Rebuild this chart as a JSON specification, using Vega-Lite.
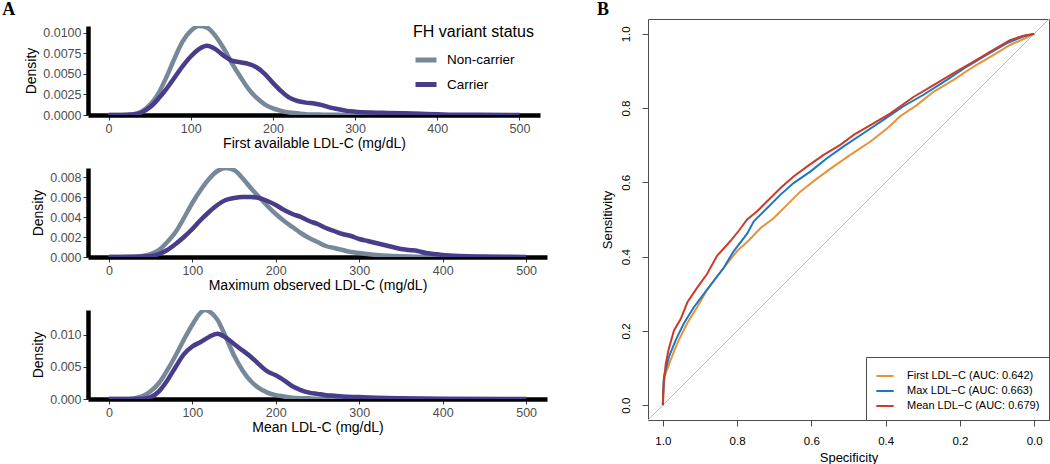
{
  "$schema": "https://vega.github.io/schema/vega-lite/v6.json",
  "background": "white",
  "padding": {"left": 2, "top": 0, "right": 0, "bottom": 0},
  "config": {
    "font": "Liberation Sans",
    "view": {"stroke": null},
    "axis": {
      "grid": false,
      "domainColor": "black",
      "domainWidth": 4.5,
      "tickColor": "#333333",
      "tickSize": 5,
      "tickWidth": 1,
      "labelColor": "#4D4D4D",
      "labelFontSize": 12.5,
      "labelPadding": 2,
      "titleFontSize": 14,
      "titleFontWeight": "normal",
      "titleColor": "black",
      "titlePadding": 2
    }
  },
  "datasets": {
    "dens": [
      {"p":"first","s":"Non-carrier","x":0,"d":0},{"p":"first","s":"Non-carrier","x":10,"d":0},{"p":"first","s":"Non-carrier","x":20,"d":0.00003},{"p":"first","s":"Non-carrier","x":30,"d":0.0001},{"p":"first","s":"Non-carrier","x":40,"d":0.0004},{"p":"first","s":"Non-carrier","x":50,"d":0.0012},{"p":"first","s":"Non-carrier","x":60,"d":0.0025},{"p":"first","s":"Non-carrier","x":70,"d":0.0045},{"p":"first","s":"Non-carrier","x":80,"d":0.0068},{"p":"first","s":"Non-carrier","x":90,"d":0.0089},{"p":"first","s":"Non-carrier","x":100,"d":0.0102},{"p":"first","s":"Non-carrier","x":110,"d":0.0108},{"p":"first","s":"Non-carrier","x":120,"d":0.0106},{"p":"first","s":"Non-carrier","x":130,"d":0.0096},{"p":"first","s":"Non-carrier","x":140,"d":0.0081},{"p":"first","s":"Non-carrier","x":150,"d":0.0063},{"p":"first","s":"Non-carrier","x":160,"d":0.0047},{"p":"first","s":"Non-carrier","x":170,"d":0.0032},{"p":"first","s":"Non-carrier","x":180,"d":0.0021},{"p":"first","s":"Non-carrier","x":190,"d":0.0013},{"p":"first","s":"Non-carrier","x":200,"d":0.0008},{"p":"first","s":"Non-carrier","x":210,"d":0.0005},{"p":"first","s":"Non-carrier","x":220,"d":0.0003},{"p":"first","s":"Non-carrier","x":230,"d":0.0002},{"p":"first","s":"Non-carrier","x":240,"d":0.0001},{"p":"first","s":"Non-carrier","x":260,"d":0.00004},{"p":"first","s":"Non-carrier","x":280,"d":0.00002},{"p":"first","s":"Non-carrier","x":300,"d":0},{"p":"first","s":"Non-carrier","x":400,"d":0},
      {"p":"first","s":"Carrier","x":0,"d":0},{"p":"first","s":"Carrier","x":20,"d":0},{"p":"first","s":"Carrier","x":30,"d":0.00005},{"p":"first","s":"Carrier","x":40,"d":0.0003},{"p":"first","s":"Carrier","x":50,"d":0.0009},{"p":"first","s":"Carrier","x":60,"d":0.0019},{"p":"first","s":"Carrier","x":70,"d":0.0031},{"p":"first","s":"Carrier","x":80,"d":0.0045},{"p":"first","s":"Carrier","x":90,"d":0.0059},{"p":"first","s":"Carrier","x":100,"d":0.0071},{"p":"first","s":"Carrier","x":110,"d":0.008},{"p":"first","s":"Carrier","x":120,"d":0.0084},{"p":"first","s":"Carrier","x":130,"d":0.008},{"p":"first","s":"Carrier","x":140,"d":0.0072},{"p":"first","s":"Carrier","x":150,"d":0.0066},{"p":"first","s":"Carrier","x":160,"d":0.0064},{"p":"first","s":"Carrier","x":170,"d":0.0062},{"p":"first","s":"Carrier","x":180,"d":0.0058},{"p":"first","s":"Carrier","x":190,"d":0.005},{"p":"first","s":"Carrier","x":200,"d":0.0039},{"p":"first","s":"Carrier","x":210,"d":0.0029},{"p":"first","s":"Carrier","x":220,"d":0.0021},{"p":"first","s":"Carrier","x":230,"d":0.0017},{"p":"first","s":"Carrier","x":240,"d":0.0015},{"p":"first","s":"Carrier","x":250,"d":0.0014},{"p":"first","s":"Carrier","x":260,"d":0.0012},{"p":"first","s":"Carrier","x":270,"d":0.0009},{"p":"first","s":"Carrier","x":280,"d":0.0007},{"p":"first","s":"Carrier","x":290,"d":0.0005},{"p":"first","s":"Carrier","x":300,"d":0.0004},{"p":"first","s":"Carrier","x":320,"d":0.0003},{"p":"first","s":"Carrier","x":340,"d":0.00025},{"p":"first","s":"Carrier","x":360,"d":0.0002},{"p":"first","s":"Carrier","x":380,"d":0.00015},{"p":"first","s":"Carrier","x":400,"d":0.0001},{"p":"first","s":"Carrier","x":420,"d":0.00004},{"p":"first","s":"Carrier","x":450,"d":0.00002},{"p":"first","s":"Carrier","x":500,"d":0},
      {"p":"max","s":"Non-carrier","x":0,"d":0},{"p":"max","s":"Non-carrier","x":30,"d":0.00002},{"p":"max","s":"Non-carrier","x":40,"d":0.0001},{"p":"max","s":"Non-carrier","x":50,"d":0.0003},{"p":"max","s":"Non-carrier","x":60,"d":0.0007},{"p":"max","s":"Non-carrier","x":70,"d":0.0015},{"p":"max","s":"Non-carrier","x":80,"d":0.0025},{"p":"max","s":"Non-carrier","x":90,"d":0.0039},{"p":"max","s":"Non-carrier","x":100,"d":0.0054},{"p":"max","s":"Non-carrier","x":110,"d":0.0067},{"p":"max","s":"Non-carrier","x":120,"d":0.0078},{"p":"max","s":"Non-carrier","x":130,"d":0.0086},{"p":"max","s":"Non-carrier","x":140,"d":0.0089},{"p":"max","s":"Non-carrier","x":150,"d":0.0087},{"p":"max","s":"Non-carrier","x":160,"d":0.0079},{"p":"max","s":"Non-carrier","x":170,"d":0.0069},{"p":"max","s":"Non-carrier","x":180,"d":0.006},{"p":"max","s":"Non-carrier","x":190,"d":0.0051},{"p":"max","s":"Non-carrier","x":200,"d":0.0043},{"p":"max","s":"Non-carrier","x":210,"d":0.0036},{"p":"max","s":"Non-carrier","x":220,"d":0.003},{"p":"max","s":"Non-carrier","x":230,"d":0.0024},{"p":"max","s":"Non-carrier","x":240,"d":0.0019},{"p":"max","s":"Non-carrier","x":250,"d":0.0015},{"p":"max","s":"Non-carrier","x":260,"d":0.0011},{"p":"max","s":"Non-carrier","x":270,"d":0.0009},{"p":"max","s":"Non-carrier","x":280,"d":0.0007},{"p":"max","s":"Non-carrier","x":290,"d":0.0005},{"p":"max","s":"Non-carrier","x":300,"d":0.0004},{"p":"max","s":"Non-carrier","x":320,"d":0.0002},{"p":"max","s":"Non-carrier","x":340,"d":0.0001},{"p":"max","s":"Non-carrier","x":360,"d":0.00005},{"p":"max","s":"Non-carrier","x":400,"d":0.00001},{"p":"max","s":"Non-carrier","x":450,"d":0},
      {"p":"max","s":"Carrier","x":0,"d":0},{"p":"max","s":"Carrier","x":40,"d":0.00005},{"p":"max","s":"Carrier","x":50,"d":0.0001},{"p":"max","s":"Carrier","x":60,"d":0.0003},{"p":"max","s":"Carrier","x":70,"d":0.0007},{"p":"max","s":"Carrier","x":80,"d":0.0013},{"p":"max","s":"Carrier","x":90,"d":0.002},{"p":"max","s":"Carrier","x":100,"d":0.0028},{"p":"max","s":"Carrier","x":110,"d":0.0037},{"p":"max","s":"Carrier","x":120,"d":0.0045},{"p":"max","s":"Carrier","x":130,"d":0.0052},{"p":"max","s":"Carrier","x":140,"d":0.0057},{"p":"max","s":"Carrier","x":150,"d":0.0059},{"p":"max","s":"Carrier","x":160,"d":0.006},{"p":"max","s":"Carrier","x":170,"d":0.006},{"p":"max","s":"Carrier","x":180,"d":0.0059},{"p":"max","s":"Carrier","x":190,"d":0.0056},{"p":"max","s":"Carrier","x":200,"d":0.0052},{"p":"max","s":"Carrier","x":210,"d":0.0047},{"p":"max","s":"Carrier","x":220,"d":0.0043},{"p":"max","s":"Carrier","x":230,"d":0.004},{"p":"max","s":"Carrier","x":240,"d":0.0036},{"p":"max","s":"Carrier","x":250,"d":0.0033},{"p":"max","s":"Carrier","x":260,"d":0.0029},{"p":"max","s":"Carrier","x":270,"d":0.0026},{"p":"max","s":"Carrier","x":280,"d":0.0023},{"p":"max","s":"Carrier","x":290,"d":0.0021},{"p":"max","s":"Carrier","x":300,"d":0.0018},{"p":"max","s":"Carrier","x":310,"d":0.0016},{"p":"max","s":"Carrier","x":320,"d":0.0014},{"p":"max","s":"Carrier","x":330,"d":0.0012},{"p":"max","s":"Carrier","x":340,"d":0.001},{"p":"max","s":"Carrier","x":350,"d":0.0008},{"p":"max","s":"Carrier","x":360,"d":0.0007},{"p":"max","s":"Carrier","x":370,"d":0.0006},{"p":"max","s":"Carrier","x":380,"d":0.0004},{"p":"max","s":"Carrier","x":390,"d":0.0003},{"p":"max","s":"Carrier","x":400,"d":0.0002},{"p":"max","s":"Carrier","x":420,"d":0.0001},{"p":"max","s":"Carrier","x":450,"d":0.00005},{"p":"max","s":"Carrier","x":480,"d":0.00002},{"p":"max","s":"Carrier","x":500,"d":0},
      {"p":"mean","s":"Non-carrier","x":0,"d":0},{"p":"mean","s":"Non-carrier","x":20,"d":0},{"p":"mean","s":"Non-carrier","x":30,"d":0.0001},{"p":"mean","s":"Non-carrier","x":40,"d":0.0004},{"p":"mean","s":"Non-carrier","x":50,"d":0.0012},{"p":"mean","s":"Non-carrier","x":60,"d":0.0025},{"p":"mean","s":"Non-carrier","x":70,"d":0.0045},{"p":"mean","s":"Non-carrier","x":80,"d":0.0068},{"p":"mean","s":"Non-carrier","x":90,"d":0.0093},{"p":"mean","s":"Non-carrier","x":100,"d":0.0116},{"p":"mean","s":"Non-carrier","x":110,"d":0.0135},{"p":"mean","s":"Non-carrier","x":115,"d":0.0139},{"p":"mean","s":"Non-carrier","x":120,"d":0.0137},{"p":"mean","s":"Non-carrier","x":130,"d":0.0124},{"p":"mean","s":"Non-carrier","x":140,"d":0.0097},{"p":"mean","s":"Non-carrier","x":150,"d":0.0068},{"p":"mean","s":"Non-carrier","x":160,"d":0.0045},{"p":"mean","s":"Non-carrier","x":170,"d":0.0028},{"p":"mean","s":"Non-carrier","x":180,"d":0.0017},{"p":"mean","s":"Non-carrier","x":190,"d":0.001},{"p":"mean","s":"Non-carrier","x":200,"d":0.0006},{"p":"mean","s":"Non-carrier","x":210,"d":0.0004},{"p":"mean","s":"Non-carrier","x":220,"d":0.0002},{"p":"mean","s":"Non-carrier","x":240,"d":0.0001},{"p":"mean","s":"Non-carrier","x":260,"d":0.00003},{"p":"mean","s":"Non-carrier","x":300,"d":0},{"p":"mean","s":"Non-carrier","x":350,"d":0},
      {"p":"mean","s":"Carrier","x":0,"d":0},{"p":"mean","s":"Carrier","x":40,"d":0.00005},{"p":"mean","s":"Carrier","x":50,"d":0.0003},{"p":"mean","s":"Carrier","x":60,"d":0.0012},{"p":"mean","s":"Carrier","x":70,"d":0.0029},{"p":"mean","s":"Carrier","x":80,"d":0.005},{"p":"mean","s":"Carrier","x":90,"d":0.007},{"p":"mean","s":"Carrier","x":100,"d":0.0082},{"p":"mean","s":"Carrier","x":110,"d":0.0089},{"p":"mean","s":"Carrier","x":120,"d":0.0097},{"p":"mean","s":"Carrier","x":130,"d":0.0102},{"p":"mean","s":"Carrier","x":140,"d":0.0096},{"p":"mean","s":"Carrier","x":150,"d":0.0086},{"p":"mean","s":"Carrier","x":160,"d":0.0076},{"p":"mean","s":"Carrier","x":170,"d":0.0066},{"p":"mean","s":"Carrier","x":180,"d":0.0054},{"p":"mean","s":"Carrier","x":190,"d":0.0043},{"p":"mean","s":"Carrier","x":200,"d":0.0037},{"p":"mean","s":"Carrier","x":210,"d":0.0029},{"p":"mean","s":"Carrier","x":220,"d":0.002},{"p":"mean","s":"Carrier","x":230,"d":0.0014},{"p":"mean","s":"Carrier","x":240,"d":0.001},{"p":"mean","s":"Carrier","x":250,"d":0.0008},{"p":"mean","s":"Carrier","x":260,"d":0.0006},{"p":"mean","s":"Carrier","x":270,"d":0.0005},{"p":"mean","s":"Carrier","x":280,"d":0.0004},{"p":"mean","s":"Carrier","x":300,"d":0.0003},{"p":"mean","s":"Carrier","x":320,"d":0.0002},{"p":"mean","s":"Carrier","x":350,"d":0.0001},{"p":"mean","s":"Carrier","x":400,"d":0.00003},{"p":"mean","s":"Carrier","x":500,"d":0}
    ],
    "roc": [
      {"c":"First LDL−C (AUC: 0.642)","sp":1,"se":0},{"c":"First LDL−C (AUC: 0.642)","sp":0.998,"se":0.04},{"c":"First LDL−C (AUC: 0.642)","sp":0.995,"se":0.078},{"c":"First LDL−C (AUC: 0.642)","sp":0.979,"se":0.122},{"c":"First LDL−C (AUC: 0.642)","sp":0.961,"se":0.167},{"c":"First LDL−C (AUC: 0.642)","sp":0.934,"se":0.221},{"c":"First LDL−C (AUC: 0.642)","sp":0.907,"se":0.265},{"c":"First LDL−C (AUC: 0.642)","sp":0.881,"se":0.31},{"c":"First LDL−C (AUC: 0.642)","sp":0.854,"se":0.346},{"c":"First LDL−C (AUC: 0.642)","sp":0.827,"se":0.381},{"c":"First LDL−C (AUC: 0.642)","sp":0.8,"se":0.415},{"c":"First LDL−C (AUC: 0.642)","sp":0.768,"se":0.444},{"c":"First LDL−C (AUC: 0.642)","sp":0.737,"se":0.477},{"c":"First LDL−C (AUC: 0.642)","sp":0.701,"se":0.504},{"c":"First LDL−C (AUC: 0.642)","sp":0.665,"se":0.54},{"c":"First LDL−C (AUC: 0.642)","sp":0.63,"se":0.575},{"c":"First LDL−C (AUC: 0.642)","sp":0.585,"se":0.61},{"c":"First LDL−C (AUC: 0.642)","sp":0.54,"se":0.643},{"c":"First LDL−C (AUC: 0.642)","sp":0.495,"se":0.674},{"c":"First LDL−C (AUC: 0.642)","sp":0.441,"se":0.71},{"c":"First LDL−C (AUC: 0.642)","sp":0.396,"se":0.745},{"c":"First LDL−C (AUC: 0.642)","sp":0.361,"se":0.778},{"c":"First LDL−C (AUC: 0.642)","sp":0.316,"se":0.808},{"c":"First LDL−C (AUC: 0.642)","sp":0.271,"se":0.844},{"c":"First LDL−C (AUC: 0.642)","sp":0.217,"se":0.876},{"c":"First LDL−C (AUC: 0.642)","sp":0.163,"se":0.912},{"c":"First LDL−C (AUC: 0.642)","sp":0.11,"se":0.943},{"c":"First LDL−C (AUC: 0.642)","sp":0.065,"se":0.97},{"c":"First LDL−C (AUC: 0.642)","sp":0.02,"se":0.99},{"c":"First LDL−C (AUC: 0.642)","sp":0,"se":1},
      {"c":"Max LDL−C (AUC: 0.663)","sp":1,"se":0},{"c":"Max LDL−C (AUC: 0.663)","sp":0.999,"se":0.04},{"c":"Max LDL−C (AUC: 0.663)","sp":0.997,"se":0.076},{"c":"Max LDL−C (AUC: 0.663)","sp":0.984,"se":0.129},{"c":"Max LDL−C (AUC: 0.663)","sp":0.966,"se":0.174},{"c":"Max LDL−C (AUC: 0.663)","sp":0.944,"se":0.219},{"c":"Max LDL−C (AUC: 0.663)","sp":0.917,"se":0.263},{"c":"Max LDL−C (AUC: 0.663)","sp":0.89,"se":0.299},{"c":"Max LDL−C (AUC: 0.663)","sp":0.863,"se":0.335},{"c":"Max LDL−C (AUC: 0.663)","sp":0.836,"se":0.37},{"c":"Max LDL−C (AUC: 0.663)","sp":0.809,"se":0.415},{"c":"Max LDL−C (AUC: 0.663)","sp":0.773,"se":0.462},{"c":"Max LDL−C (AUC: 0.663)","sp":0.755,"se":0.495},{"c":"Max LDL−C (AUC: 0.663)","sp":0.719,"se":0.531},{"c":"Max LDL−C (AUC: 0.663)","sp":0.683,"se":0.567},{"c":"Max LDL−C (AUC: 0.663)","sp":0.648,"se":0.598},{"c":"Max LDL−C (AUC: 0.663)","sp":0.603,"se":0.629},{"c":"Max LDL−C (AUC: 0.663)","sp":0.558,"se":0.665},{"c":"Max LDL−C (AUC: 0.663)","sp":0.513,"se":0.697},{"c":"Max LDL−C (AUC: 0.663)","sp":0.459,"se":0.733},{"c":"Max LDL−C (AUC: 0.663)","sp":0.405,"se":0.769},{"c":"Max LDL−C (AUC: 0.663)","sp":0.352,"se":0.805},{"c":"Max LDL−C (AUC: 0.663)","sp":0.298,"se":0.836},{"c":"Max LDL−C (AUC: 0.663)","sp":0.235,"se":0.876},{"c":"Max LDL−C (AUC: 0.663)","sp":0.181,"se":0.912},{"c":"Max LDL−C (AUC: 0.663)","sp":0.127,"se":0.944},{"c":"Max LDL−C (AUC: 0.663)","sp":0.073,"se":0.975},{"c":"Max LDL−C (AUC: 0.663)","sp":0.029,"se":0.993},{"c":"Max LDL−C (AUC: 0.663)","sp":0,"se":1},
      {"c":"Mean LDL−C (AUC: 0.679)","sp":1,"se":0},{"c":"Mean LDL−C (AUC: 0.679)","sp":0.998,"se":0.06},{"c":"Mean LDL−C (AUC: 0.679)","sp":0.992,"se":0.112},{"c":"Mean LDL−C (AUC: 0.679)","sp":0.984,"se":0.152},{"c":"Mean LDL−C (AUC: 0.679)","sp":0.97,"se":0.201},{"c":"Mean LDL−C (AUC: 0.679)","sp":0.952,"se":0.232},{"c":"Mean LDL−C (AUC: 0.679)","sp":0.934,"se":0.277},{"c":"Mean LDL−C (AUC: 0.679)","sp":0.907,"se":0.317},{"c":"Mean LDL−C (AUC: 0.679)","sp":0.881,"se":0.353},{"c":"Mean LDL−C (AUC: 0.679)","sp":0.854,"se":0.402},{"c":"Mean LDL−C (AUC: 0.679)","sp":0.818,"se":0.442},{"c":"Mean LDL−C (AUC: 0.679)","sp":0.796,"se":0.469},{"c":"Mean LDL−C (AUC: 0.679)","sp":0.773,"se":0.5},{"c":"Mean LDL−C (AUC: 0.679)","sp":0.746,"se":0.522},{"c":"Mean LDL−C (AUC: 0.679)","sp":0.719,"se":0.549},{"c":"Mean LDL−C (AUC: 0.679)","sp":0.683,"se":0.585},{"c":"Mean LDL−C (AUC: 0.679)","sp":0.648,"se":0.616},{"c":"Mean LDL−C (AUC: 0.679)","sp":0.611,"se":0.643},{"c":"Mean LDL−C (AUC: 0.679)","sp":0.567,"se":0.674},{"c":"Mean LDL−C (AUC: 0.679)","sp":0.522,"se":0.701},{"c":"Mean LDL−C (AUC: 0.679)","sp":0.486,"se":0.728},{"c":"Mean LDL−C (AUC: 0.679)","sp":0.441,"se":0.754},{"c":"Mean LDL−C (AUC: 0.679)","sp":0.387,"se":0.786},{"c":"Mean LDL−C (AUC: 0.679)","sp":0.325,"se":0.83},{"c":"Mean LDL−C (AUC: 0.679)","sp":0.271,"se":0.862},{"c":"Mean LDL−C (AUC: 0.679)","sp":0.217,"se":0.894},{"c":"Mean LDL−C (AUC: 0.679)","sp":0.163,"se":0.925},{"c":"Mean LDL−C (AUC: 0.679)","sp":0.11,"se":0.957},{"c":"Mean LDL−C (AUC: 0.679)","sp":0.065,"se":0.983},{"c":"Mean LDL−C (AUC: 0.679)","sp":0.029,"se":0.995},{"c":"Mean LDL−C (AUC: 0.679)","sp":0,"se":1}
    ],
    "diag": [{"sp": 1.04, "se": -0.04}, {"sp": -0.04, "se": 1.04}]
  },
  "resolve": {"scale": {"color": "independent"}, "legend": {"color": "independent"}},
  "columns": 2,
  "align": "none",
  "spacing": 49,
  "concat": [
    {
      "title": {"text": "A", "font": "Liberation Serif", "fontSize": 18, "fontWeight": "bold", "color": "black", "anchor": "start", "frame": "bounds", "dx": -22, "offset": 0},
      "columns": 1,
      "align": "none",
      "spacing": 0,
      "resolve": {"scale": {"color": "independent"}, "legend": {"color": "independent"}},
      "concat": [
        {
          "width": 400, "height": 5,
          "data": {"values": []},
          "mark": {"type": "point", "opacity": 0},
          "encoding": {}
        },
        {
          "columns": 1,
          "align": "none",
          "spacing": 17,
          "resolve": {"scale": {"color": "independent"}, "legend": {"color": "independent"}},
          "concat": [
            {
              "width": 452, "height": 89,
              "data": {"name": "dens"},
              "transform": [{"filter": "datum.p === 'first'"}],
              "mark": {"type": "line", "strokeWidth": 4.5, "interpolate": "monotone", "clip": true},
              "encoding": {
                "x": {"field": "x", "type": "quantitative", "scale": {"domain": [-25, 525], "nice": false, "zero": false}, "axis": {"values": [0, 100, 200, 300, 400, 500], "title": "First available LDL-C (mg/dL)"}},
                "y": {"field": "d", "type": "quantitative", "scale": {"domain": [0, 0.0108], "nice": false}, "axis": {"values": [0, 0.0025, 0.005, 0.0075, 0.01], "format": ".4f", "title": "Density", "titlePadding": 4.5}},
                "color": {"field": "s", "type": "nominal", "scale": {"domain": ["Non-carrier", "Carrier"], "range": ["#778899", "#483D8B"]},
                  "legend": {"title": "FH variant status", "orient": "none", "legendX": 325, "legendY": -2, "titleFontSize": 16, "titleFontWeight": "normal", "titleColor": "black", "titlePadding": 7, "labelFontSize": 13.5, "labelColor": "black", "symbolType": "stroke", "symbolSize": 441, "symbolStrokeWidth": 5, "labelOffset": 8, "rowPadding": 1.5, "padding": 0}}
              }
            },
            {
              "width": 459, "height": 89,
              "data": {"name": "dens"},
              "transform": [{"filter": "datum.p === 'max'"}],
              "mark": {"type": "line", "strokeWidth": 4.5, "interpolate": "monotone", "clip": true},
              "encoding": {
                "x": {"field": "x", "type": "quantitative", "scale": {"domain": [-25, 525], "nice": false, "zero": false}, "axis": {"values": [0, 100, 200, 300, 400, 500], "title": "Maximum observed LDL-C (mg/dL)"}},
                "y": {"field": "d", "type": "quantitative", "scale": {"domain": [0, 0.0089], "nice": false}, "axis": {"values": [0, 0.002, 0.004, 0.006, 0.008], "format": ".3f", "title": "Density", "titlePadding": 4.5}},
                "color": {"field": "s", "type": "nominal", "scale": {"domain": ["Non-carrier", "Carrier"], "range": ["#778899", "#483D8B"]}, "legend": null}
              }
            },
            {
              "width": 459, "height": 89,
              "data": {"name": "dens"},
              "transform": [{"filter": "datum.p === 'mean'"}],
              "mark": {"type": "line", "strokeWidth": 4.5, "interpolate": "monotone", "clip": true},
              "encoding": {
                "x": {"field": "x", "type": "quantitative", "scale": {"domain": [-25, 525], "nice": false, "zero": false}, "axis": {"values": [0, 100, 200, 300, 400, 500], "title": "Mean LDL-C (mg/dL)"}},
                "y": {"field": "d", "type": "quantitative", "scale": {"domain": [0, 0.0139], "nice": false}, "axis": {"values": [0, 0.005, 0.01], "format": ".3f", "title": "Density", "titlePadding": 4.5}},
                "color": {"field": "s", "type": "nominal", "scale": {"domain": ["Non-carrier", "Carrier"], "range": ["#778899", "#483D8B"]}, "legend": null}
              }
            }
          ]
        }
      ]
    },
    {
      "title": {"text": "B", "font": "Liberation Serif", "fontSize": 18, "fontWeight": "bold", "color": "black", "anchor": "start", "frame": "bounds", "dx": -4, "offset": 0},
      "width": 401, "height": 401,
      "view": {"stroke": "#4D4D4D", "strokeWidth": 1},
      "layer": [
        {
          "data": {"name": "diag"},
          "mark": {"type": "line", "color": "#BEBEBE", "strokeWidth": 1, "clip": true},
          "encoding": {
            "x": {"field": "sp", "type": "quantitative"},
            "y": {"field": "se", "type": "quantitative"}
          }
        },
        {
          "data": {"name": "roc"},
          "mark": {"type": "line", "strokeWidth": 2, "clip": true},
          "encoding": {
            "x": {"field": "sp", "type": "quantitative", "scale": {"domain": [1.04, -0.04], "nice": false, "zero": false},
              "axis": {"values": [1, 0.8, 0.6, 0.4, 0.2, 0], "format": ".1f", "title": "Specificity", "domain": false, "tickColor": "#4D4D4D", "tickSize": 6, "labelColor": "black", "labelFontSize": 11.5, "labelPadding": 9, "titleFontSize": 13, "titlePadding": 5}},
            "y": {"field": "se", "type": "quantitative", "scale": {"domain": [-0.04, 1.04], "nice": false, "zero": false},
              "axis": {"values": [0, 0.2, 0.4, 0.6, 0.8, 1], "format": ".1f", "title": "Sensitivity", "domain": false, "tickColor": "#4D4D4D", "tickSize": 6, "labelColor": "black", "labelFontSize": 11.5, "labelAngle": -90, "labelAlign": "center", "labelBaseline": "bottom", "labelPadding": 11, "titleFontSize": 13, "titlePadding": 6}},
            "color": {"field": "c", "type": "nominal", "scale": {"domain": ["First LDL−C (AUC: 0.642)", "Max LDL−C (AUC: 0.663)", "Mean LDL−C (AUC: 0.679)"], "range": ["#E8923A", "#1A78C2", "#CC3A28"]},
              "legend": {"title": null, "orient": "bottom-right", "offset": 0, "padding": 9, "strokeColor": "#4D4D4D", "fillColor": "white", "symbolType": "stroke", "symbolSize": 300, "symbolStrokeWidth": 2, "labelFontSize": 11, "labelColor": "black", "labelOffset": 12, "rowPadding": 0}}
          }
        }
      ]
    }
  ]
}
